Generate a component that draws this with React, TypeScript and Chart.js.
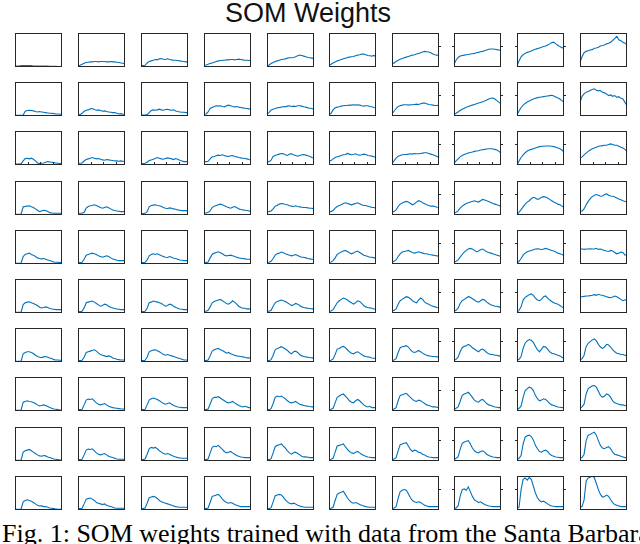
import React, { useEffect, useRef } from "react";
import { Chart, registerables } from "chart.js";

Chart.register(...registerables);

// sample index (24 steps per SOM weight vector)
const steps = [0, 1, 2, 3, 4, 5, 6, 7, 8, 9, 10, 11, 12, 13, 14, 15, 16, 17, 18, 19, 20, 21, 22, 23];

// SOM weights, row by row (values in % of the common y-range)
const row0 = [
  [3, 3, 3, 4, 4, 4, 4, 4, 4, 3, 3, 3, 3, 3, 3, 3, 3, 2, 2, 2, 2, 1, 1, 1],
  [3, 5, 8, 11, 13, 14, 15, 15, 16, 16, 15, 16, 16, 16, 15, 15, 16, 15, 15, 14, 13, 12, 11, 10],
  [4, 4, 5, 12, 16, 18, 20, 22, 21, 24, 25, 23, 22, 24, 22, 21, 20, 20, 19, 18, 17, 16, 15, 15],
  [5, 6, 8, 10, 12, 14, 16, 18, 19, 20, 20, 21, 21, 22, 22, 21, 22, 23, 22, 21, 20, 20, 19, 18],
  [3, 6, 10, 13, 16, 18, 20, 22, 23, 24, 26, 27, 27, 28, 30, 33, 35, 34, 32, 30, 28, 27, 26, 25],
  [5, 8, 12, 15, 18, 20, 22, 24, 26, 28, 29, 30, 31, 33, 35, 36, 38, 38, 36, 34, 33, 32, 34, 30],
  [8, 12, 16, 20, 23, 25, 27, 29, 31, 33, 35, 36, 38, 40, 42, 44, 46, 45, 44, 42, 38, 36, 35, 33],
  [8, 20, 28, 32, 34, 35, 36, 37, 38, 39, 40, 42, 43, 45, 46, 48, 50, 52, 53, 53, 52, 51, 50, 48],
  [3, 18, 30, 36, 40, 43, 45, 47, 50, 52, 54, 56, 58, 60, 62, 65, 68, 72, 73, 68, 64, 60, 57, 55],
  [14, 30, 42, 46, 48, 50, 51, 55, 56, 58, 62, 63, 65, 68, 70, 73, 78, 84, 90, 80, 77, 73, 70, 65],
];
const row1 = [
  [2, 2, 2, 2, 3, 14, 16, 17, 16, 15, 13, 12, 13, 12, 11, 10, 9, 8, 8, 7, 6, 6, 5, 5],
  [3, 4, 8, 14, 17, 18, 21, 22, 19, 17, 18, 16, 14, 15, 13, 12, 11, 10, 10, 8, 6, 7, 5, 5],
  [3, 3, 3, 4, 10, 16, 18, 17, 18, 20, 18, 17, 19, 20, 18, 17, 18, 15, 13, 12, 11, 11, 10, 10],
  [5, 6, 12, 22, 25, 28, 30, 29, 30, 28, 27, 30, 32, 30, 28, 27, 28, 26, 25, 24, 23, 22, 21, 20],
  [5, 10, 18, 20, 22, 24, 25, 26, 28, 27, 29, 30, 28, 29, 28, 30, 30, 29, 27, 26, 24, 23, 22, 20],
  [4, 8, 18, 24, 26, 27, 29, 30, 31, 31, 32, 32, 33, 32, 33, 32, 30, 29, 30, 30, 28, 27, 25, 24],
  [6, 14, 22, 28, 30, 32, 33, 33, 32, 33, 33, 34, 35, 34, 36, 38, 38, 36, 34, 33, 32, 31, 31, 32],
  [4, 8, 12, 16, 20, 23, 26, 28, 30, 32, 34, 36, 38, 40, 42, 44, 47, 50, 52, 53, 50, 45, 40, 36],
  [4, 15, 25, 32, 37, 41, 44, 47, 50, 52, 54, 55, 56, 57, 58, 59, 60, 61, 59, 56, 53, 50, 45, 40],
  [40, 58, 65, 70, 72, 75, 78, 80, 76, 74, 75, 70, 68, 65, 60, 62, 58, 60, 55, 57, 52, 50, 40, 30],
];
const row2 = [
  [3, 3, 3, 4, 12, 19, 20, 18, 20, 17, 12, 6, 4, 5, 6, 8, 10, 9, 8, 7, 6, 5, 4, 4],
  [5, 5, 6, 12, 16, 18, 20, 22, 20, 18, 19, 17, 15, 14, 16, 15, 14, 13, 12, 12, 11, 12, 11, 11],
  [3, 4, 5, 8, 13, 15, 17, 19, 22, 20, 18, 17, 19, 21, 20, 18, 16, 19, 17, 14, 12, 10, 10, 10],
  [10, 10, 11, 18, 24, 25, 27, 29, 28, 30, 28, 26, 25, 27, 28, 25, 24, 22, 21, 20, 19, 18, 16, 15],
  [10, 10, 14, 25, 28, 30, 32, 34, 33, 30, 28, 32, 33, 30, 28, 26, 28, 30, 31, 29, 27, 25, 22, 20],
  [10, 13, 18, 22, 24, 26, 28, 30, 31, 34, 32, 30, 31, 33, 30, 29, 30, 32, 31, 28, 27, 26, 24, 22],
  [5, 12, 20, 26, 28, 30, 31, 31, 32, 33, 32, 34, 33, 33, 34, 35, 36, 36, 34, 32, 30, 28, 25, 22],
  [5, 12, 18, 24, 28, 31, 33, 35, 37, 38, 40, 41, 42, 44, 45, 46, 47, 48, 48, 47, 46, 44, 40, 35],
  [0, 12, 22, 30, 36, 41, 44, 46, 48, 50, 52, 54, 55, 55, 56, 56, 56, 55, 54, 52, 50, 48, 44, 38],
  [20, 24, 30, 35, 40, 44, 48, 50, 52, 55, 56, 57, 58, 58, 60, 62, 60, 58, 58, 55, 52, 50, 46, 40],
];
const row3 = [
  [2, 2, 2, 3, 24, 25, 26, 27, 24, 22, 18, 14, 10, 12, 14, 13, 10, 7, 6, 5, 5, 5, 5, 5],
  [5, 5, 5, 8, 20, 25, 27, 28, 30, 28, 25, 22, 20, 22, 24, 21, 18, 15, 13, 12, 11, 10, 10, 10],
  [4, 4, 5, 10, 24, 28, 29, 30, 28, 27, 25, 22, 20, 19, 21, 20, 18, 17, 15, 14, 13, 13, 13, 13],
  [6, 6, 8, 12, 22, 26, 28, 30, 32, 30, 27, 24, 22, 20, 23, 25, 22, 18, 16, 15, 14, 13, 12, 10],
  [10, 10, 12, 18, 26, 28, 32, 34, 33, 31, 30, 27, 26, 25, 27, 25, 24, 23, 22, 22, 21, 20, 20, 18],
  [10, 10, 13, 20, 25, 28, 30, 34, 36, 34, 32, 30, 32, 34, 36, 33, 30, 28, 28, 26, 24, 22, 22, 20],
  [8, 10, 15, 25, 32, 35, 38, 40, 38, 34, 30, 33, 38, 42, 40, 36, 33, 30, 28, 26, 26, 25, 23, 22],
  [5, 8, 12, 20, 26, 30, 34, 36, 38, 40, 42, 40, 38, 42, 46, 44, 42, 40, 37, 34, 32, 30, 28, 25],
  [0, 8, 16, 24, 32, 38, 42, 48, 52, 50, 46, 48, 52, 54, 53, 50, 46, 42, 38, 35, 32, 30, 26, 22],
  [10, 12, 18, 30, 40, 48, 54, 58, 60, 58, 55, 56, 60, 62, 58, 56, 55, 53, 50, 47, 45, 42, 40, 38],
];
const row4 = [
  [2, 2, 2, 3, 22, 28, 30, 32, 28, 26, 22, 18, 16, 15, 16, 14, 12, 10, 8, 6, 5, 5, 4, 4],
  [4, 4, 5, 14, 26, 28, 30, 32, 30, 28, 24, 22, 20, 22, 24, 22, 18, 15, 13, 11, 10, 10, 10, 10],
  [4, 4, 5, 12, 24, 28, 30, 28, 30, 27, 24, 22, 20, 19, 22, 20, 17, 16, 14, 12, 11, 10, 10, 10],
  [4, 4, 6, 18, 28, 32, 34, 36, 33, 30, 26, 24, 25, 26, 24, 22, 20, 18, 17, 16, 15, 14, 14, 13],
  [5, 5, 8, 16, 26, 30, 32, 35, 33, 30, 28, 26, 24, 26, 28, 25, 22, 20, 20, 18, 16, 15, 14, 14],
  [5, 6, 10, 18, 28, 32, 35, 38, 40, 37, 33, 30, 32, 36, 38, 34, 30, 26, 24, 22, 20, 20, 18, 18],
  [5, 8, 12, 22, 30, 35, 37, 38, 40, 37, 34, 32, 34, 36, 34, 32, 30, 30, 28, 27, 26, 25, 24, 22],
  [5, 8, 12, 20, 28, 35, 40, 44, 46, 44, 40, 36, 38, 42, 44, 40, 36, 34, 32, 30, 28, 26, 24, 22],
  [3, 8, 16, 26, 32, 36, 38, 40, 42, 44, 45, 44, 42, 44, 46, 44, 42, 40, 38, 35, 32, 30, 28, 25],
  [45, 44, 43, 44, 44, 45, 44, 44, 46, 43, 44, 42, 40, 38, 37, 40, 38, 34, 30, 32, 35, 34, 26, 28],
];
const row5 = [
  [2, 2, 2, 3, 25, 30, 32, 33, 30, 28, 25, 22, 17, 15, 16, 18, 16, 13, 12, 11, 10, 10, 10, 10],
  [4, 4, 5, 15, 30, 32, 34, 35, 32, 28, 24, 20, 22, 26, 24, 20, 17, 15, 13, 12, 11, 10, 10, 10],
  [4, 4, 5, 14, 30, 32, 35, 34, 32, 30, 28, 24, 20, 22, 26, 24, 20, 16, 14, 12, 11, 10, 10, 10],
  [5, 5, 8, 18, 30, 34, 36, 38, 40, 36, 32, 28, 26, 30, 36, 32, 26, 20, 16, 14, 14, 12, 12, 11],
  [5, 5, 8, 20, 30, 34, 36, 38, 36, 34, 30, 26, 22, 24, 28, 26, 22, 18, 16, 15, 14, 13, 12, 12],
  [5, 6, 10, 20, 30, 36, 40, 44, 42, 38, 34, 30, 26, 30, 36, 34, 28, 22, 18, 16, 15, 14, 12, 10],
  [5, 8, 12, 26, 36, 40, 44, 48, 46, 42, 36, 32, 30, 38, 44, 40, 32, 28, 26, 22, 20, 18, 16, 15],
  [5, 8, 14, 28, 36, 40, 44, 48, 46, 42, 38, 34, 32, 36, 40, 38, 32, 28, 24, 22, 20, 20, 18, 16],
  [2, 8, 18, 38, 46, 50, 54, 56, 52, 44, 38, 36, 40, 48, 50, 44, 38, 34, 30, 28, 26, 22, 18, 14],
  [48, 48, 49, 50, 50, 51, 52, 54, 52, 55, 53, 52, 50, 48, 46, 45, 47, 50, 48, 44, 40, 36, 38, 40],
];
const row6 = [
  [2, 2, 2, 3, 24, 28, 30, 30, 28, 25, 20, 16, 14, 13, 15, 16, 14, 12, 10, 7, 6, 6, 5, 5],
  [4, 4, 5, 14, 28, 30, 32, 34, 36, 32, 26, 22, 20, 18, 16, 18, 16, 12, 10, 8, 7, 6, 6, 6],
  [4, 4, 5, 14, 30, 33, 35, 36, 33, 30, 26, 22, 20, 22, 20, 18, 16, 14, 12, 10, 8, 6, 6, 6],
  [4, 4, 6, 18, 32, 36, 38, 40, 36, 34, 30, 26, 28, 24, 22, 20, 18, 17, 16, 15, 14, 12, 12, 11],
  [4, 4, 7, 20, 36, 40, 42, 45, 42, 38, 34, 28, 24, 30, 32, 28, 22, 18, 16, 15, 14, 13, 12, 12],
  [4, 5, 9, 22, 38, 40, 44, 46, 42, 36, 30, 26, 24, 28, 30, 26, 22, 18, 16, 15, 14, 12, 11, 10],
  [4, 6, 10, 28, 42, 45, 46, 48, 44, 36, 30, 28, 30, 34, 30, 26, 22, 20, 18, 17, 16, 16, 15, 15],
  [4, 8, 14, 30, 42, 46, 48, 52, 48, 42, 38, 34, 30, 36, 38, 34, 28, 24, 22, 22, 20, 20, 18, 16],
  [4, 8, 16, 40, 56, 62, 66, 64, 58, 46, 36, 30, 38, 46, 44, 38, 30, 26, 24, 22, 20, 18, 14, 10],
  [6, 10, 20, 45, 55, 60, 65, 68, 62, 52, 44, 40, 44, 52, 50, 44, 36, 30, 26, 24, 22, 22, 20, 18],
];
const row7 = [
  [2, 2, 2, 3, 26, 28, 30, 28, 27, 25, 22, 18, 15, 16, 18, 16, 13, 10, 8, 6, 5, 4, 3, 3],
  [4, 4, 5, 18, 32, 35, 34, 36, 30, 24, 20, 18, 20, 22, 18, 14, 12, 10, 9, 8, 7, 6, 6, 6],
  [4, 4, 5, 18, 32, 36, 38, 36, 34, 30, 26, 22, 20, 22, 24, 20, 16, 14, 12, 11, 10, 10, 10, 10],
  [4, 4, 6, 20, 36, 40, 40, 42, 38, 34, 30, 26, 24, 26, 28, 24, 20, 16, 14, 12, 14, 12, 10, 10],
  [4, 4, 7, 22, 40, 44, 42, 44, 40, 36, 30, 26, 24, 26, 28, 24, 20, 18, 16, 15, 14, 13, 12, 12],
  [4, 5, 8, 24, 40, 44, 48, 50, 44, 38, 30, 26, 24, 30, 34, 30, 24, 18, 14, 12, 14, 10, 10, 10],
  [4, 6, 10, 30, 46, 48, 50, 52, 46, 40, 34, 30, 28, 32, 30, 26, 22, 18, 16, 14, 12, 12, 11, 10],
  [4, 8, 12, 28, 46, 50, 52, 55, 48, 40, 32, 28, 26, 32, 34, 28, 22, 18, 16, 14, 12, 11, 10, 10],
  [4, 8, 14, 40, 60, 66, 70, 68, 60, 46, 36, 30, 32, 36, 34, 28, 22, 18, 16, 14, 12, 11, 10, 10],
  [8, 12, 20, 50, 66, 70, 74, 75, 70, 58, 46, 40, 44, 50, 48, 40, 30, 24, 22, 20, 18, 18, 16, 14],
];
const row8 = [
  [2, 2, 2, 3, 26, 30, 32, 34, 30, 26, 22, 18, 15, 14, 16, 15, 12, 10, 8, 6, 5, 4, 3, 3],
  [4, 4, 5, 18, 32, 35, 34, 36, 30, 24, 20, 18, 20, 22, 18, 14, 12, 10, 8, 6, 5, 5, 5, 5],
  [4, 4, 6, 20, 36, 40, 38, 40, 36, 30, 26, 22, 20, 22, 20, 16, 14, 12, 10, 9, 8, 8, 8, 8],
  [4, 4, 6, 24, 40, 44, 42, 46, 40, 34, 28, 24, 26, 28, 24, 20, 16, 14, 12, 11, 10, 10, 10, 10],
  [4, 4, 7, 24, 42, 46, 48, 50, 44, 38, 30, 24, 20, 24, 26, 22, 18, 14, 12, 12, 11, 10, 10, 10],
  [4, 5, 8, 26, 44, 46, 48, 50, 42, 34, 28, 24, 22, 26, 28, 24, 20, 16, 14, 12, 11, 10, 10, 10],
  [4, 6, 10, 30, 48, 50, 52, 54, 44, 34, 28, 32, 30, 26, 24, 20, 18, 14, 12, 11, 10, 10, 10, 10],
  [4, 8, 12, 34, 52, 56, 58, 60, 50, 38, 30, 26, 24, 28, 30, 26, 20, 16, 14, 12, 11, 10, 10, 10],
  [4, 8, 16, 50, 70, 74, 76, 72, 62, 46, 36, 28, 26, 30, 32, 28, 20, 16, 14, 12, 11, 10, 10, 10],
  [8, 10, 20, 60, 76, 78, 82, 85, 76, 60, 46, 38, 36, 40, 42, 36, 26, 20, 18, 16, 14, 12, 10, 10],
];
const row9 = [
  [2, 2, 2, 3, 24, 28, 30, 28, 26, 22, 18, 14, 12, 12, 10, 10, 8, 6, 5, 4, 3, 2, 2, 2],
  [4, 4, 5, 18, 32, 34, 35, 32, 28, 22, 20, 18, 16, 18, 14, 12, 10, 8, 6, 5, 5, 5, 5, 5],
  [4, 4, 6, 20, 36, 38, 40, 38, 34, 28, 24, 22, 20, 18, 16, 14, 12, 10, 9, 8, 8, 8, 8, 8],
  [4, 4, 6, 22, 40, 42, 44, 46, 40, 32, 26, 22, 20, 22, 20, 16, 14, 12, 10, 10, 10, 10, 10, 10],
  [4, 4, 7, 24, 42, 44, 46, 44, 38, 30, 24, 20, 18, 20, 18, 14, 12, 10, 9, 8, 8, 8, 8, 8],
  [4, 5, 8, 28, 46, 50, 52, 55, 46, 36, 28, 22, 20, 22, 20, 16, 14, 12, 10, 9, 8, 8, 8, 8],
  [4, 6, 10, 34, 54, 58, 60, 58, 48, 36, 28, 24, 22, 24, 22, 18, 14, 12, 10, 10, 10, 10, 10, 10],
  [4, 6, 12, 40, 60, 62, 58, 68, 54, 40, 30, 26, 22, 24, 20, 16, 14, 12, 11, 10, 10, 10, 10, 10],
  [4, 8, 60, 90, 94, 88, 96, 90, 70, 50, 36, 28, 24, 26, 22, 18, 14, 12, 11, 10, 10, 10, 10, 10],
  [8, 10, 30, 85, 94, 96, 100, 95, 78, 60, 46, 38, 40, 44, 40, 30, 22, 16, 14, 12, 10, 10, 10, 10],
];

const rows = [row0, row1, row2, row3, row4, row5, row6, row7, row8, row9];

const TITLE = "SOM Weights";
const CAPTION = "Fig. 1: SOM weights trained with data from the Santa Barbara";

const LINE_COLOR = "#0072BD";
const FRAME_COLOR = "#262626";
const COL_LEFT = [15, 78, 141, 204, 267, 329, 392, 454, 517, 580];
const ROW_TOP = [33, 82, 131, 181, 230, 279, 328, 377, 427, 476];
const BOX_W = 47;
const BOX_H = 34;
const PAD_X = 3;
const PAD_Y = 1;

const framePlugin = {
  id: "frame",
  afterDraw(chart: any, _args: any, opts: any) {
    const { ctx, chartArea: a } = chart;
    ctx.save();
    ctx.strokeStyle = FRAME_COLOR;
    ctx.lineWidth = 1;
    ctx.strokeRect(a.left + 0.5, a.top + 0.5, a.right - a.left - 1, a.bottom - a.top - 1);
    const ty = Math.round(chart.scales.y.getPixelForValue(63)) + 0.5;
    ctx.beginPath();
    if (opts.tickRight) {
      ctx.moveTo(a.right - 1, ty);
      ctx.lineTo(a.right + 2, ty);
    }
    if (opts.tickLeft) {
      ctx.moveTo(a.left - 2, ty);
      ctx.lineTo(a.left + 1, ty);
    }
    if (opts.bottomTicks) {
      [0.28, 0.535, 0.8].forEach((f) => {
        const tx = Math.round(chart.scales.x.getPixelForDecimal(f)) + 0.5;
        ctx.moveTo(tx, a.bottom);
        ctx.lineTo(tx, a.bottom - 3);
      });
    }
    ctx.stroke();
    ctx.restore();
  },
};

function SmallPlot({ values, row, col }: { values: number[]; row: number; col: number }) {
  const ref = useRef<HTMLCanvasElement>(null);
  useEffect(() => {
    if (!ref.current) return;
    const chart = new Chart(ref.current, {
      type: "line",
      data: {
        labels: steps,
        datasets: [
          {
            data: values,
            borderColor: LINE_COLOR,
            borderWidth: 1.1,
            pointRadius: 0,
            tension: 0,
            fill: false,
          },
        ],
      },
      options: {
        animation: false,
        responsive: false,
        maintainAspectRatio: false,
        events: [],
        layout: { padding: { left: PAD_X, right: PAD_X, top: PAD_Y, bottom: PAD_Y } },
        scales: {
          x: { display: false },
          y: { display: false, min: 0, max: 100 },
        },
        plugins: {
          legend: { display: false },
          tooltip: { enabled: false },
          title: { display: false },
          frame: {
            tickRight: col >= 6 && col <= 8,
            tickLeft: col >= 7 && col <= 8,
            bottomTicks: row === 2,
          },
        } as any,
      },
      plugins: [framePlugin],
    });
    return () => chart.destroy();
  }, [values, row, col]);
  return (
    <canvas
      ref={ref}
      width={BOX_W + 2 * PAD_X}
      height={BOX_H + 2 * PAD_Y}
      style={{
        position: "absolute",
        left: COL_LEFT[col] - PAD_X,
        top: ROW_TOP[row] - PAD_Y,
        width: BOX_W + 2 * PAD_X,
        height: BOX_H + 2 * PAD_Y,
      }}
    />
  );
}

export default function App() {
  return (
    <div
      style={{
        position: "fixed",
        left: 0,
        top: 0,
        width: 640,
        height: 544,
        overflow: "hidden",
        background: "#ffffff",
      }}
    >
      <div
        style={{
          position: "absolute",
          left: 308,
          top: 0,
          transform: "translateX(-50%)",
          whiteSpace: "nowrap",
          fontFamily: "'Liberation Sans', Arial, sans-serif",
          fontSize: 27,
          lineHeight: "27px",
          color: "#111",
        }}
      >
        {TITLE}
      </div>
      {rows.map((r, ri) =>
        r.map((vals, ci) => <SmallPlot key={`${ri}-${ci}`} values={vals} row={ri} col={ci} />)
      )}
      <div
        style={{
          position: "absolute",
          left: 2,
          top: 521,
          whiteSpace: "nowrap",
          fontFamily: "'Liberation Serif', 'Times New Roman', serif",
          fontSize: 26,
          lineHeight: "26px",
          color: "#000",
        }}
      >
        {CAPTION}
      </div>
    </div>
  );
}
